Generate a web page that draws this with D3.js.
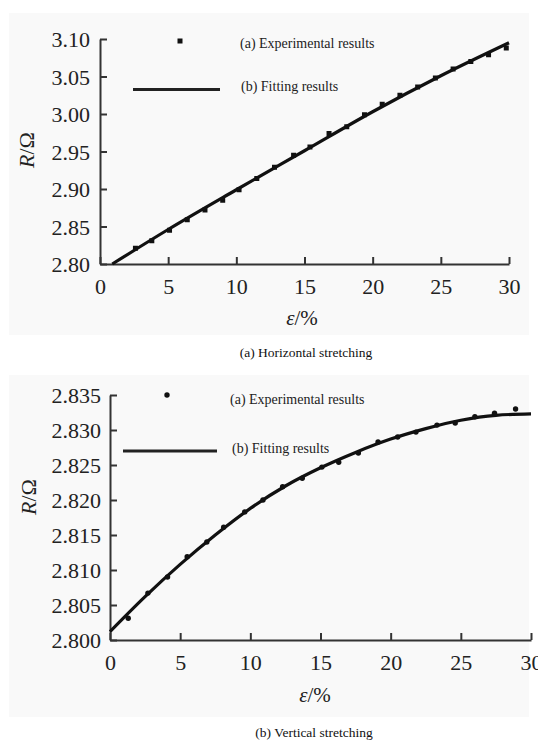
<!DOCTYPE html>
<html>
<head>
<meta charset="utf-8">
<script src="https://cdn.jsdelivr.net/npm/d3@7"></script>
<style>
  body { margin: 0; background: #fff; }
  svg { display: block; }
  svg text { font-family: "Liberation Serif", "DejaVu Serif", serif; }
</style>
</head>
<body>
<svg id="chart" width="538" height="740"></svg>
<script>
// (a) horizontal stretching - experimental points
const topStrain = [2.6, 3.8, 5.1, 6.4, 7.7, 9.0, 10.2, 11.5, 12.8, 14.2, 15.4, 16.8, 18.1, 19.4, 20.7, 22.0, 23.3, 24.6, 25.9, 27.2, 28.5, 29.8]
const topR = [2.821, 2.831, 2.845, 2.859, 2.872, 2.885, 2.899, 2.914, 2.929, 2.945, 2.956, 2.974, 2.983, 2.999, 3.013, 3.025, 3.036, 3.048, 3.060, 3.070, 3.079, 3.088]
// (a) fitted curve
const topFitStrain = [0.9, 5, 10, 15, 20, 25, 30]
const topFitR = [2.800, 2.846, 2.899, 2.951, 3.003, 3.051, 3.095]
const topYTicks = [2.80, 2.85, 2.90, 2.95, 3.00, 3.05, 3.10]

// (b) vertical stretching - experimental points
const bottomStrain = [1.3, 2.7, 4.1, 5.5, 6.9, 8.1, 9.6, 10.9, 12.3, 13.7, 15.1, 16.3, 17.7, 19.1, 20.5, 21.8, 23.3, 24.6, 26.0, 27.4, 28.9]
const bottomR = [2.8031, 2.8067, 2.8090, 2.8119, 2.8140, 2.8161, 2.8183, 2.8200, 2.8219, 2.8231, 2.8247, 2.8254, 2.8267, 2.8283, 2.8290, 2.8297, 2.8307, 2.8310, 2.8319, 2.8324, 2.8330]
// (b) fitted curve
const bottomFitStrain = [0, 2.5, 5, 7.5, 10, 12.5, 15, 17.5, 20, 22.5, 25, 27.5, 30]
const bottomFitR = [2.8012, 2.8062, 2.8108, 2.8150, 2.8188, 2.8220, 2.8246, 2.8268, 2.8287, 2.8302, 2.8314, 2.8321, 2.8323]
const bottomYTicks = [2.800, 2.805, 2.810, 2.815, 2.820, 2.825, 2.830, 2.835]

const xTicks = [0, 5, 10, 15, 20, 25, 30]

const svg = d3.select('#chart')
const serif = '"Liberation Serif", "DejaVu Serif", serif'

const drawPanel = (p) => {
    const x = d3.scaleLinear().domain([0, 30]).range([p.left, p.right])
    const y = d3.scaleLinear().domain(p.yDomain).range([p.bottom, p.top])

    // faint grey backing like the scanned figure
    svg.append('rect')
        .attr('x', 9).attr('y', p.bgTop)
        .attr('width', 520).attr('height', p.bgBottom - p.bgTop)
        .attr('fill', '#f9f9f9')

    const xAxis = svg.append('g')
        .attr('transform', `translate(0,${p.bottom})`)
        .call(d3.axisBottom(x).tickValues(xTicks).tickSizeInner(-7).tickSizeOuter(0).tickPadding(14))
    const yAxis = svg.append('g')
        .attr('transform', `translate(${p.left},0)`)
        .call(d3.axisLeft(y).tickValues(p.yTicks).tickFormat(d3.format(p.fmt)).tickSizeInner(-7).tickSizeOuter(0).tickPadding(p.yPad))

    for (const g of [xAxis, yAxis]) {
        g.attr('font-family', null)
        g.select('.domain').attr('stroke', '#333').attr('stroke-width', 2)
        g.selectAll('.tick line').attr('stroke', '#333').attr('stroke-width', 2)
        g.selectAll('.tick text')
            .attr('fill', '#222')
            .attr('font-size', 22)
            .style('font-family', serif)
    }
    yAxis.selectAll('.tick text').attr('dy', '0.35em')
    xAxis.selectAll('.tick text').attr('dy', '0.71em')

    // fitted line
    const fit = p.fitX.map((d, i) => [d, p.fitY[i]])
    svg.append('path')
        .datum(fit)
        .attr('fill', 'none')
        .attr('stroke', '#111')
        .attr('stroke-width', 3.2)
        .attr('d', d3.line().x(d => x(d[0])).y(d => y(d[1])).curve(d3.curveMonotoneX))

    // experimental points
    const pts = p.ptX.map((d, i) => [d, p.ptY[i]])
    if (p.square) {
        svg.append('g').selectAll('rect')
            .data(pts)
            .join('rect')
            .attr('x', d => x(d[0]) - 2.5)
            .attr('y', d => y(d[1]) - 2.5)
            .attr('width', 5).attr('height', 5)
            .attr('fill', '#111')
    } else {
        svg.append('g').selectAll('circle')
            .data(pts)
            .join('circle')
            .attr('cx', d => x(d[0]))
            .attr('cy', d => y(d[1]))
            .attr('r', 2.7)
            .attr('fill', '#111')
    }

    // legend
    if (p.square) {
        svg.append('rect').attr('x', p.legMark[0] - 2.5).attr('y', p.legMark[1] - 2.5)
            .attr('width', 5).attr('height', 5).attr('fill', '#111')
    } else {
        svg.append('circle').attr('cx', p.legMark[0]).attr('cy', p.legMark[1]).attr('r', 2.7).attr('fill', '#111')
    }
    svg.append('line')
        .attr('x1', p.legLine[0]).attr('x2', p.legLine[1])
        .attr('y1', p.legLine[2]).attr('y2', p.legLine[2])
        .attr('stroke', '#222').attr('stroke-width', 3.2)
    svg.append('text').attr('x', p.legText1[0]).attr('y', p.legText1[1])
        .attr('font-size', 14).attr('fill', '#222').text('(a) Experimental results')
    svg.append('text').attr('x', p.legText2[0]).attr('y', p.legText2[1])
        .attr('font-size', 14).attr('fill', '#222').text('(b) Fitting results')

    // axis titles
    const yt = svg.append('text')
        .attr('transform', `translate(${p.yTitle[0]},${p.yTitle[1]}) rotate(-90)`)
        .attr('text-anchor', 'middle')
        .attr('font-size', 22).attr('fill', '#222')
    yt.append('tspan').attr('font-style', 'italic').text('R')
    yt.append('tspan').text('/Ω')

    const xt = svg.append('text')
        .attr('x', p.xTitle[0]).attr('y', p.xTitle[1])
        .attr('text-anchor', 'middle')
        .attr('font-size', 21).attr('fill', '#222')
    xt.append('tspan').attr('font-style', 'italic').text('ε')
    xt.append('tspan').text('/%')

    svg.append('text')
        .attr('x', p.caption[0]).attr('y', p.caption[1])
        .attr('text-anchor', 'middle')
        .attr('font-size', 13.5).attr('fill', '#111')
        .text(p.captionText)
}

drawPanel({
    left: 100, right: 509, top: 39, bottom: 264,
    yDomain: [2.80, 3.10], yTicks: topYTicks, fmt: '.2f', yPad: 10,
    bgTop: 13, bgBottom: 335,
    ptX: topStrain, ptY: topR, fitX: topFitStrain, fitY: topFitR, square: true,
    legMark: [180, 41], legLine: [133, 220, 89.5], legText1: [240, 48], legText2: [241, 91],
    yTitle: [34, 150], xTitle: [302, 325],
    caption: [306, 357], captionText: '(a) Horizontal stretching'
})

drawPanel({
    left: 110, right: 531, top: 395, bottom: 640,
    yDomain: [2.800, 2.835], yTicks: bottomYTicks, fmt: '.3f', yPad: 9,
    bgTop: 375, bgBottom: 717,
    ptX: bottomStrain, ptY: bottomR, fitX: bottomFitStrain, fitY: bottomFitR, square: false,
    legMark: [167, 395], legLine: [123, 217, 451], legText1: [230, 404], legText2: [232, 453],
    yTitle: [36, 497], xTitle: [315, 702],
    caption: [314, 737], captionText: '(b) Vertical stretching'
})
</script>
</body>
</html>
